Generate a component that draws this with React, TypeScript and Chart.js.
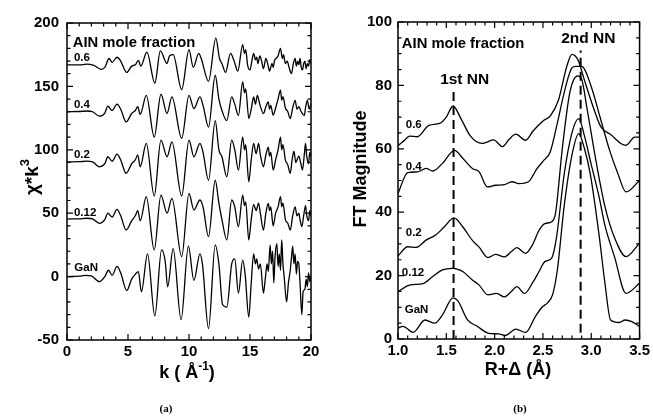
import React, { useEffect, useRef } from 'react';
import { Chart, registerables } from 'chart.js';
Chart.register(...registerables);

const FONT = '"Liberation Sans", Arial, Helvetica, sans-serif';
const SERIF = '"Liberation Serif", "Times New Roman", serif';

// ---------- Panel (a): chi*k^3 vs k ----------
const kTicks = [0, 5, 10, 15, 20];
const chiTicks = [-50, 0, 50, 100, 150, 200];

const chiA06: [number, number][] = [
  [0, 167], [1.0, 167], [1.6, 167.5], [2.2, 166.5], [2.8, 163.5], [3.1, 165], [3.45, 172], [3.7, 169], [4.1, 173],
  [4.4, 170], [4.9, 161], [5.3, 166], [5.6, 167], [5.85, 170.5], [6.05, 166], [6.55, 177], [7.2, 152.5], [7.65, 178],
  [8.2, 168], [8.4, 174], [8.7, 175], [9.4, 147.5], [10.0, 179], [10.35, 165], [10.8, 176], [11.0, 172], [11.6, 154],
  [12.2, 188], [12.5, 172], [12.7, 168], [13.0, 161], [13.4, 176], [13.7, 170], [14.0, 162], [14.4, 183],
  [14.55, 176], [14.65, 179], [14.8, 167], [15.0, 163], [15.15, 170], [15.3, 176], [15.45, 171], [15.55, 173],
  [15.65, 168], [15.8, 174], [15.95, 170], [16.1, 164], [16.3, 172], [16.45, 168], [16.6, 162], [16.8, 168],
  [16.9, 165], [17.0, 170], [17.3, 174], [17.5, 180], [17.65, 172], [17.75, 175], [17.9, 168], [18.05, 170],
  [18.2, 165], [18.4, 160], [18.55, 168], [18.7, 172], [18.8, 166], [18.9, 170], [19.0, 167], [19.1, 172],
  [19.2, 165], [19.3, 163], [19.4, 168], [19.5, 170], [19.6, 164], [19.7, 168], [19.8, 166], [19.9, 171], [20, 168],
];
const chiA04: [number, number][] = [
  [0, 130], [1.0, 130.2], [1.6, 130.6], [2.1, 130], [2.65, 126.5], [3.1, 129], [3.35, 134.4], [3.7, 131], [4.1, 136],
  [4.4, 132], [4.85, 122], [5.3, 128.6], [5.6, 131], [5.8, 134], [6.0, 128], [6.5, 143], [7.15, 110], [7.7, 143.8],
  [8.2, 128.6], [8.6, 141.7], [9.4, 109], [10.0, 143], [10.4, 132.5], [10.9, 141.7], [11.15, 135], [11.6, 118],
  [12.15, 158.8], [12.45, 140], [12.7, 131], [13.1, 123], [13.5, 141.7], [13.75, 136], [14.05, 127], [14.4, 153.5],
  [14.55, 145], [14.65, 148], [14.9, 124.7], [15.1, 132], [15.3, 141.7], [15.45, 136], [15.6, 143], [15.8, 136],
  [16.1, 128.6], [16.3, 134], [16.5, 137.8], [16.6, 132], [16.7, 135], [16.9, 127.3], [17.1, 133], [17.3, 140],
  [17.5, 147], [17.6, 139], [17.7, 142], [17.9, 133], [18.1, 130], [18.3, 124.7], [18.5, 133], [18.7, 139],
  [18.85, 132], [19.0, 134], [19.2, 130], [19.45, 127], [19.55, 133], [19.7, 139], [19.85, 132], [20, 136.5],
];
const chiA02: [number, number][] = [
  [0, 90.4], [1.0, 90.6], [1.6, 91], [2.1, 90.4], [2.65, 86.6], [3.1, 89], [3.35, 94.5], [3.7, 91], [4.1, 96.6],
  [4.4, 92], [4.85, 81.4], [5.3, 89], [5.6, 92], [5.8, 96], [6.0, 86.6], [6.5, 105], [7.15, 63.5], [7.7, 107.6],
  [8.2, 94.5], [8.6, 106.3], [9.4, 63.5], [10.0, 107.6], [10.4, 94.5], [10.9, 105], [11.15, 98], [11.6, 76],
  [12.15, 123], [12.45, 100], [12.7, 94.5], [13.1, 78.7], [13.5, 107.6], [13.75, 100], [14.05, 84], [14.4, 110],
  [14.55, 100], [14.65, 104], [14.9, 74.8], [15.1, 92], [15.3, 105], [15.5, 97], [15.7, 105], [15.85, 96],
  [16.1, 86.6], [16.3, 96], [16.5, 102], [16.6, 95], [16.7, 98], [16.9, 84], [17.1, 92], [17.3, 100], [17.5, 110],
  [17.6, 100], [17.7, 104], [17.9, 92], [18.1, 88], [18.3, 81.4], [18.45, 92], [18.6, 99], [18.75, 90], [19.0, 95],
  [19.15, 90], [19.3, 84], [19.45, 96], [19.55, 105], [19.65, 95], [19.8, 89], [19.9, 98], [20, 95],
];
const chiA012: [number, number][] = [
  [0, 45.4], [1.0, 45.6], [1.6, 46], [2.1, 45.5], [2.65, 42], [3.1, 45], [3.35, 50], [3.7, 47], [4.1, 53], [4.4, 48],
  [4.85, 36.7], [5.3, 44], [5.6, 48], [5.8, 52], [6.0, 44], [6.5, 63], [7.15, 21], [7.7, 64.3], [8.2, 50], [8.6, 61.7],
  [9.4, 15.7], [10.0, 65.6], [10.4, 52.5], [10.9, 60.4], [11.15, 55], [11.6, 31.5], [12.15, 76], [12.45, 58],
  [12.7, 45], [13.1, 28.9], [13.5, 60.4], [13.75, 55], [14.05, 39.4], [14.4, 64.3], [14.55, 56], [14.65, 59],
  [14.9, 28.9], [15.1, 45], [15.3, 57], [15.5, 52], [15.7, 58], [15.85, 50], [16.1, 36.7], [16.3, 50], [16.5, 57.7],
  [16.6, 52], [16.7, 55], [16.9, 40], [17.1, 50], [17.3, 55], [17.5, 63], [17.6, 55], [17.7, 58], [17.9, 45],
  [18.1, 42], [18.3, 36.7], [18.5, 48], [18.7, 55], [18.85, 48], [19.0, 50], [19.1, 45], [19.25, 39.4], [19.4, 48],
  [19.55, 56], [19.65, 48], [19.8, 44], [19.9, 52], [20, 48],
];
const chiAGaN: [number, number][] = [
  [0, 0], [1.0, 0.3], [1.5, 1], [2.0, 0.5], [2.65, -4], [3.1, 0], [3.4, 5], [3.7, 1], [4.1, 8], [4.4, 3], [4.9, -11],
  [5.3, -2], [5.6, 2], [5.85, 4], [6.1, -12], [6.6, 18], [7.2, -31], [7.75, 21], [8.05, 12], [8.25, -8], [8.7, 22],
  [9.35, -34], [9.95, 24], [10.4, -3], [10.9, 18], [11.1, 10], [11.6, -41], [12.15, 25], [12.45, 10], [12.75, -22],
  [13.1, -24], [13.5, 10], [13.75, 14], [14.05, -13], [14.4, 13], [14.6, 2], [14.9, -32], [15.1, -5], [15.3, 18],
  [15.45, 10], [15.55, 14], [15.7, 6], [15.85, 10], [16.1, -13], [16.25, -2], [16.4, 10], [16.5, 4], [16.65, 25],
  [16.75, 10], [16.85, 20], [16.95, -5], [17.05, 15], [17.2, 26], [17.3, 8], [17.4, 18], [17.5, 5], [17.6, 29],
  [17.7, 10], [17.8, 0], [18.0, -20], [18.15, -5], [18.3, 5], [18.4, 15], [18.5, 24], [18.6, 10], [18.7, 18],
  [18.8, 2], [18.9, 12], [19.0, 10], [19.1, -5], [19.25, -30], [19.35, -12], [19.5, -10], [19.6, -2], [19.7, -8],
  [19.8, 3], [19.9, -4], [20, 0],
];

// ---------- Panel (b): FT magnitude vs R ----------
const rTicks = [1.0, 1.5, 2.0, 2.5, 3.0, 3.5];
const ftTicks = [0, 20, 40, 60, 80, 100];

const ftB06: [number, number][] = [
  [1.0, 61], [1.06, 62.5], [1.12, 64], [1.2, 63.8], [1.32, 67.4], [1.43, 68], [1.5, 70], [1.57, 73.5], [1.65, 69.6],
  [1.75, 64], [1.87, 61.7], [1.91, 62], [1.99, 62.8], [2.08, 60.7], [2.15, 63], [2.22, 64.6], [2.32, 62.7], [2.4, 65.7],
  [2.51, 69], [2.575, 70.3], [2.66, 75.3], [2.745, 85.8], [2.8, 89.8], [2.865, 87.9], [2.93, 81.6], [3.02, 73.2],
  [3.1, 66.9], [3.21, 64.3], [3.31, 61.6], [3.36, 61.1], [3.45, 63.7], [3.5, 63.7],
];
const ftB04: [number, number][] = [
  [1.0, 45.9], [1.1, 52.5], [1.2, 52.7], [1.29, 53.8], [1.36, 53], [1.46, 55.4], [1.585, 59.5], [1.67, 57],
  [1.77, 53.8], [1.84, 52.7], [1.925, 48], [2.01, 48.5], [2.1, 48.7], [2.18, 49.6], [2.25, 49], [2.35, 49.6],
  [2.44, 53.8], [2.51, 56.4], [2.575, 59], [2.64, 66.9], [2.73, 79], [2.8, 85.5], [2.84, 86], [2.9, 86], [3.0, 79.6],
  [3.09, 70.1], [3.19, 59.5], [3.275, 52.2], [3.36, 46.4], [3.5, 50],
];
const ftB02: [number, number][] = [
  [1.0, 26.2], [1.1, 29.1], [1.19, 28.9], [1.29, 31.2], [1.39, 32.8], [1.48, 35.4], [1.58, 38.2], [1.67, 35.4],
  [1.77, 31.1], [1.84, 29], [1.93, 25.7], [2.01, 26.7], [2.1, 25.9], [2.17, 27.5], [2.23, 28.8], [2.32, 27.0],
  [2.39, 29.6], [2.46, 34.3], [2.52, 36.4], [2.59, 37], [2.63, 39.6], [2.7, 60], [2.78, 78], [2.86, 83], [2.9, 82],
  [2.96, 72], [3.05, 56], [3.14, 42], [3.24, 32], [3.36, 26], [3.5, 30.2],
];
const ftB012: [number, number][] = [
  [1.0, 14.9], [1.12, 17], [1.26, 17.5], [1.36, 19.7], [1.46, 21.8], [1.56, 22.3], [1.62, 22], [1.67, 21.3],
  [1.77, 18.6], [1.84, 17], [1.93, 13.9], [2.02, 14.4], [2.1, 13.3], [2.17, 14.9], [2.23, 16.5], [2.31, 14.4],
  [2.39, 17.6], [2.46, 21.3], [2.52, 24.4], [2.59, 25.5], [2.64, 32], [2.72, 52], [2.8, 65], [2.87, 69.5], [2.93, 64],
  [3.0, 55], [3.08, 45], [3.14, 36], [3.24, 26], [3.36, 14.4], [3.5, 17.6],
];
const ftBGaN: [number, number][] = [
  [1.0, 3.4], [1.05, 4], [1.157, 2.1], [1.28, 6], [1.38, 5], [1.46, 7.6], [1.57, 13], [1.62, 12], [1.72, 6], [1.82, 4],
  [1.94, 1.8], [2.04, 1.6], [2.11, 1.1], [2.22, 3.1], [2.32, 2.1], [2.42, 7], [2.49, 10], [2.55, 11.5], [2.6, 14],
  [2.65, 22], [2.72, 42], [2.8, 58], [2.87, 64.8], [2.93, 60], [2.99, 52], [3.08, 33], [3.14, 18], [3.2, 6],
  [3.29, 5.2], [3.35, 6], [3.42, 5.5], [3.5, 3.9],
];
const nn1Line: [number, number][] = [[1.575, 0], [1.575, 79]];
const nn2Line: [number, number][] = [[2.89, 2], [2.89, 91]];

// ---------- helpers ----------
type Seg = { t: string; size: number; dy?: number };
type Txt = { segs: Seg[]; x: number; y: number; align?: 'left' | 'center'; rot?: boolean; px?: boolean; bold?: boolean; family?: string };

function drawTxt(ctx: CanvasRenderingContext2D, t: Txt, X: number, Y: number) {
  ctx.save();
  ctx.translate(X, Y);
  if (t.rot) ctx.rotate(-Math.PI / 2);
  const fam = t.family || FONT;
  const wt = t.bold === false ? '' : 'bold ';
  let total = 0;
  const widths = t.segs.map((s) => {
    ctx.font = `${wt}${s.size}px ${fam}`;
    const w = ctx.measureText(s.t).width;
    total += w;
    return w;
  });
  let cx = t.align === 'left' ? 0 : -total / 2;
  const base = t.segs[0].size * 0.36;
  ctx.textBaseline = 'alphabetic';
  ctx.textAlign = 'left';
  ctx.fillStyle = '#000';
  t.segs.forEach((s, i) => {
    ctx.font = `${wt}${s.size}px ${fam}`;
    ctx.fillText(s.t, cx, base + (s.dy || 0));
    cx += widths[i];
  });
  ctx.restore();
}

function framePlugin(o: { xMinor: number; xMajor: number; yMinor: number; yMajor: number; texts: Txt[] }) {
  return {
    id: 'frameTicks',
    afterDraw(chart: any) {
      const { ctx, chartArea: ca, scales } = chart;
      const xs = scales.x;
      const ys = scales.y;
      ctx.save();
      ctx.strokeStyle = '#000';
      ctx.lineWidth = 1.5;
      ctx.strokeRect(ca.left, ca.top, ca.right - ca.left, ca.bottom - ca.top);
      ctx.lineWidth = 1.2;
      ctx.beginPath();
      const nX = Math.round((xs.max - xs.min) / o.xMinor);
      for (let i = 0; i <= nX; i++) {
        const v = xs.min + i * o.xMinor;
        const r = v / o.xMajor;
        const len = Math.abs(r - Math.round(r)) < 1e-6 ? 6 : 3.5;
        const p = xs.getPixelForValue(v);
        ctx.moveTo(p, ca.bottom); ctx.lineTo(p, ca.bottom - len);
        ctx.moveTo(p, ca.top); ctx.lineTo(p, ca.top + len);
      }
      const nY = Math.round((ys.max - ys.min) / o.yMinor);
      for (let i = 0; i <= nY; i++) {
        const v = ys.min + i * o.yMinor;
        const r = v / o.yMajor;
        const len = Math.abs(r - Math.round(r)) < 1e-6 ? 6 : 3.5;
        const p = ys.getPixelForValue(v);
        ctx.moveTo(ca.left, p); ctx.lineTo(ca.left + len, p);
        ctx.moveTo(ca.right, p); ctx.lineTo(ca.right - len, p);
      }
      ctx.stroke();
      for (const t of o.texts) {
        const X = t.px ? t.x : xs.getPixelForValue(t.x);
        const Y = t.px ? t.y : ys.getPixelForValue(t.y);
        drawTxt(ctx, t, X, Y);
      }
      ctx.restore();
    },
  };
}

function lineDs(pts: [number, number][], extra: any = {}) {
  return {
    data: pts.map(([x, y]) => ({ x, y })),
    borderColor: '#000',
    borderWidth: 1.3,
    pointRadius: 0,
    fill: false,
    cubicInterpolationMode: 'monotone',
    ...extra,
  };
}
function dashDs(pts: [number, number][]) {
  return {
    data: pts.map(([x, y]) => ({ x, y })),
    borderColor: '#000',
    borderWidth: 2,
    borderDash: [9, 5],
    pointRadius: 0,
    fill: false,
    tension: 0,
  };
}

function axisOpts(min: number, max: number, ticks: number[], fmt: (v: number) => string, isX: boolean, fit: number, pad: number) {
  return {
    type: 'linear',
    min,
    max,
    afterBuildTicks: (s: any) => { s.ticks = ticks.map((v) => ({ value: v })); },
    afterFit: (s: any) => { if (isX) s.height = fit; else s.width = fit; },
    ticks: { color: '#000', font: { family: FONT, size: 15, weight: 'bold' }, padding: pad, autoSkip: false, maxRotation: 0, callback: (v: any) => fmt(Number(v)) },
    grid: { display: false, drawTicks: false },
    border: { display: false },
  };
}

export default function App() {
  const refA = useRef<HTMLCanvasElement>(null);
  const refB = useRef<HTMLCanvasElement>(null);

  useEffect(() => {
    const lbl = (s: string, x: number, y: number, size = 11.5): Txt => ({ segs: [{ t: s, size }], x, y, align: 'left' });
    const chartA = new Chart(refA.current as HTMLCanvasElement, {
      type: 'line',
      data: { datasets: [chiA06, chiA04, chiA02, chiA012, chiAGaN].map((d) => lineDs(d)) as any },
      options: {
        responsive: false,
        animation: false,
        devicePixelRatio: 1,
        layout: { padding: { left: 0, top: 23, right: 19, bottom: 0 } },
        plugins: { legend: { display: false }, tooltip: { enabled: false } },
        scales: {
          x: axisOpts(0, 20, kTicks, (v) => String(v), true, 80, 3) as any,
          y: axisOpts(-50, 200, chiTicks, (v) => String(v), false, 67, 8) as any,
        },
      },
      plugins: [framePlugin({
        xMinor: 1, xMajor: 5, yMinor: 10, yMajor: 50,
        texts: [
          lbl('AIN mole fraction', 0.47, 185.6, 14.8),
          lbl('0.6', 0.57, 173),
          lbl('0.4', 0.57, 136.4),
          lbl('0.2', 0.57, 97),
          lbl('0.12', 0.57, 50.9),
          lbl('GaN', 0.6, 7.5),
          { segs: [{ t: 'χ*k', size: 19 }, { t: '3', size: 13, dy: -9 }], x: 31, y: 177, rot: true, px: true },
          { segs: [{ t: 'k ( Å', size: 18 }, { t: '-1', size: 12, dy: -8 }, { t: ')', size: 18 }], x: 187, y: 372, px: true },
          { segs: [{ t: '(a)', size: 11 }], x: 166, y: 408, px: true, family: SERIF },
        ],
      })],
    } as any);

    const chartB = new Chart(refB.current as HTMLCanvasElement, {
      type: 'line',
      data: {
        datasets: [
          ...[ftB06, ftB04, ftB02, ftB012, ftBGaN].map((d) => lineDs(d)),
          dashDs(nn1Line),
          dashDs(nn2Line),
        ] as any,
      },
      options: {
        responsive: false,
        animation: false,
        devicePixelRatio: 1,
        layout: { padding: { left: 0, top: 22, right: 11, bottom: 0 } },
        plugins: { legend: { display: false }, tooltip: { enabled: false } },
        scales: {
          x: axisOpts(1.0, 3.5, rTicks, (v) => v.toFixed(1), true, 81, 3) as any,
          y: axisOpts(0, 100, ftTicks, (v) => String(v), false, 68, 6) as any,
        },
      },
      plugins: [framePlugin({
        xMinor: 0.1, xMajor: 0.5, yMinor: 5, yMajor: 20,
        texts: [
          lbl('AIN mole fraction', 1.04, 93.5, 14.8),
          { segs: [{ t: '1st NN', size: 15.5 }], x: 1.69, y: 82.2 },
          { segs: [{ t: '2nd NN', size: 15.5 }], x: 2.97, y: 95 },
          lbl('0.6', 1.08, 67.8),
          lbl('0.4', 1.08, 54.5),
          lbl('0.2', 1.08, 33.8),
          lbl('0.12', 1.04, 21.1),
          lbl('GaN', 1.07, 9.5),
          { segs: [{ t: 'FT Magnitude', size: 18 }], x: 30, y: 169, rot: true, px: true },
          { segs: [{ t: 'R+Δ (Å)', size: 18 }], x: 188, y: 369, px: true },
          { segs: [{ t: '(b)', size: 11 }], x: 190, y: 408, px: true, family: SERIF },
        ],
      })],
    } as any);

    return () => {
      chartA.destroy();
      chartB.destroy();
    };
  }, []);

  return (
    <div style={{ position: 'fixed', left: 0, top: 0, width: 653, height: 420, background: '#fff' }}>
      <canvas ref={refA} width={330} height={420} style={{ position: 'absolute', left: 0, top: 0 }} />
      <canvas ref={refB} width={323} height={420} style={{ position: 'absolute', left: 330, top: 0 }} />
    </div>
  );
}
